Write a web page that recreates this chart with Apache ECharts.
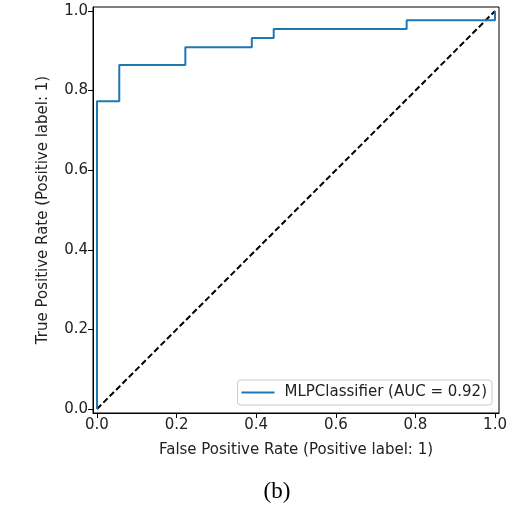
<!DOCTYPE html>
<html>
<head>
<meta charset="utf-8">
<script src="https://cdn.jsdelivr.net/npm/echarts@6/dist/echarts.min.js"></script>
<style>
html,body{margin:0;padding:0;background:#fff;}
#main{width:518px;height:507px;}
</style>
</head>
<body>
<div id="main"></div>
<script>
// ROC curve points
var fpr = [0, 0, 0.056, 0.056, 0.222, 0.222, 0.389, 0.389, 0.444, 0.444, 0.778, 0.778, 1.0, 1.0];
var tpr = [0, 0.773, 0.773, 0.864, 0.864, 0.909, 0.909, 0.932, 0.932, 0.955, 0.955, 0.977, 0.977, 1.0];
var chanceX = [0, 1];
var chanceY = [0, 1];
var tickValues = [0, 0.2, 0.4, 0.6, 0.8, 1.0];
var curveName = 'MLPClassifier (AUC = 0.92)';

function pairs(xs, ys){
  var out = [];
  for (var i = 0; i < xs.length; i++) out.push([xs[i], ys[i]]);
  return out;
}

var font = 'DejaVu Sans';
var axisCommon = {
  type: 'value',
  min: -0.01,
  max: 1.01,
  nameLocation: 'middle',
  nameTextStyle: { fontFamily: font, fontSize: 15, color: '#222' },
  axisLine: { show: true, onZero: false, lineStyle: { color: '#000', width: 1 } },
  axisTick: { show: true, length: 5, lineStyle: { color: '#000' }, customValues: tickValues },
  axisLabel: {
    fontFamily: font, fontSize: 15, color: '#222', margin: 5,
    customValues: tickValues,
    formatter: function (v) { return v.toFixed(1); }
  },
  splitLine: { show: false }
};

var chart = echarts.init(document.getElementById('main'));
chart.setOption({
  animation: false,
  title: {
    text: '(b)',
    left: 272,
    top: 475,
    textAlign: 'center',
    textStyle: { fontFamily: 'Liberation Serif', fontSize: 23, fontWeight: 'normal', color: '#000' }
  },
  grid: {
    left: 93, right: 19, top: 7, bottom: 94,
    show: true, borderColor: '#000', borderWidth: 1, backgroundColor: '#fff'
  },
  xAxis: Object.assign({}, axisCommon, {
    name: 'False Positive Rate (Positive label: 1)',
    nameGap: 30
  }),
  yAxis: Object.assign({}, axisCommon, {
    name: 'True Positive Rate (Positive label: 1)',
    nameGap: 42
  }),
  legend: {
    data: [curveName],
    right: 26,
    bottom: 102,
    orient: 'vertical',
    icon: 'rect',
    itemWidth: 33,
    itemHeight: 2,
    itemGap: 0,
    padding: [5, 5, 5, 4],
    borderColor: '#ccc',
    borderWidth: 1,
    borderRadius: 3,
    backgroundColor: 'rgba(255,255,255,0.8)',
    textStyle: { fontFamily: font, fontSize: 15, color: '#222', padding: [0, 0, 0, 5] }
  },
  series: [
    {
      name: curveName,
      type: 'line',
      data: pairs(fpr, tpr),
      showSymbol: false,
      color: '#1f77b4',
      lineStyle: { color: '#1f77b4', width: 2 },
      z: 3
    },
    {
      name: 'chance',
      type: 'line',
      data: pairs(chanceX, chanceY),
      showSymbol: false,
      lineStyle: { color: '#000', width: 2, type: [6, 3] },
      z: 2
    }
  ]
});
</script>
</body>
</html>
